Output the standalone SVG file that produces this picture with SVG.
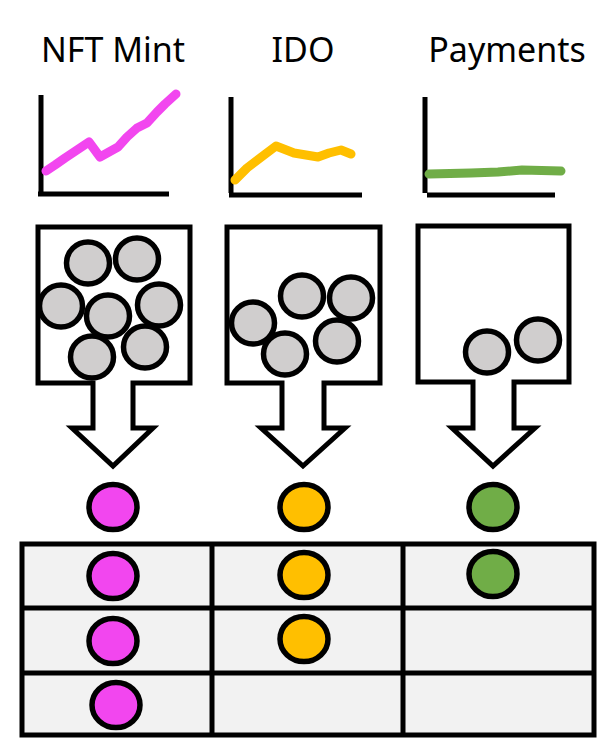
<svg xmlns="http://www.w3.org/2000/svg" width="614" height="756" viewBox="0 0 614 756">
<style>
.title{font-family:"Noto Sans","Liberation Sans",sans-serif;font-size:34px;fill:#000;text-anchor:middle}
.axis{stroke:#000;stroke-width:5;fill:none}
.trend{fill:none;stroke-width:9;stroke-linecap:round;stroke-linejoin:round}
.box{fill:#fff;stroke:#000;stroke-width:5;stroke-linejoin:miter}
.ball{fill:#d0cece;stroke:#000;stroke-width:5.5}
.tok{stroke:#000;stroke-width:5.5}
.pink{fill:#f246ef}
.orange{fill:#ffbf00}
.green{fill:#70ad47}
.grid{fill:#f2f2f2;stroke:#000;stroke-width:5}
.gl{stroke:#000;stroke-width:5}
</style>
<rect width="614" height="756" fill="#fff"/>

<g id="nft">
<text class="title" x="113" y="62">NFT Mint</text>
<path class="axis" d="M41,95 V192 M38,194 H169"/>
<path class="trend" stroke="#f246ef" d="M46,171 L55,165 L65,158 L89,142 L100,157 L118,147 L127,137 L137,128 L147,123 L157,112 L165,104 L176,94"/>
<path class="box" d="M38,227 H190 V383 H133 V428 H153 L113,466 L72,428 H93 V383 H38 Z"/>
<ellipse class="ball" cx="88" cy="263" rx="21.5" ry="21"/>
<ellipse class="ball" cx="137" cy="259" rx="21.5" ry="21"/>
<ellipse class="ball" cx="61" cy="306" rx="21.5" ry="21"/>
<ellipse class="ball" cx="108" cy="316" rx="21.5" ry="21"/>
<ellipse class="ball" cx="159" cy="305" rx="21.5" ry="21"/>
<ellipse class="ball" cx="92" cy="357" rx="21.5" ry="21"/>
<ellipse class="ball" cx="145" cy="347" rx="21.5" ry="21"/>
<ellipse class="tok pink" cx="113" cy="507" rx="24" ry="22.5"/>
</g>

<g id="ido">
<text class="title" x="303" y="62">IDO</text>
<path class="axis" d="M231,97 V193 M229,195 H362"/>
<path class="trend" stroke="#ffbf00" d="M235,180 L247,168 L276,146 L294,153 L318,157 L329,153 L341,150 L351,154"/>
<path class="box" d="M227,227 H380 V383 H324 V428 H345 L303,466 L261,428 H282 V383 H227 Z"/>
<ellipse class="ball" cx="253" cy="323" rx="21.5" ry="21"/>
<ellipse class="ball" cx="302" cy="296" rx="21.5" ry="21"/>
<ellipse class="ball" cx="351" cy="298" rx="21.5" ry="21"/>
<ellipse class="ball" cx="285" cy="354" rx="21.5" ry="21"/>
<ellipse class="ball" cx="337" cy="341" rx="21.5" ry="21"/>
<ellipse class="tok orange" cx="304" cy="507" rx="24" ry="22.5"/>
</g>

<g id="payments">
<text class="title" x="507" y="62">Payments</text>
<path class="axis" d="M425,97 V193 M427,195 H555"/>
<path class="trend" stroke="#70ad47" d="M429,174 L471,173 L498,172 L522,170 L561,171"/>
<path class="box" d="M418,226 H569 V382 H514 V428 H535 L493,466 L452,428 H473 V382 H418 Z"/>
<ellipse class="ball" cx="487" cy="352" rx="21.5" ry="21"/>
<ellipse class="ball" cx="538" cy="340" rx="21.5" ry="21"/>
<ellipse class="tok green" cx="493" cy="507" rx="24" ry="22.5"/>
</g>

<g id="table">
<rect class="grid" x="22" y="544" width="572" height="191"/>
<path class="gl" d="M22,608 H594 M22,673 H594 M212,544 V735 M403,544 V735"/>
<ellipse class="tok pink" cx="113" cy="576" rx="24" ry="22.5"/>
<ellipse class="tok orange" cx="304" cy="575" rx="24" ry="22.5"/>
<ellipse class="tok green" cx="493" cy="574" rx="24" ry="22.5"/>
<ellipse class="tok pink" cx="113" cy="641" rx="24" ry="22.5"/>
<ellipse class="tok orange" cx="304" cy="639" rx="24" ry="22.5"/>
<ellipse class="tok pink" cx="116" cy="705" rx="24" ry="22.5"/>
</g>
</svg>
